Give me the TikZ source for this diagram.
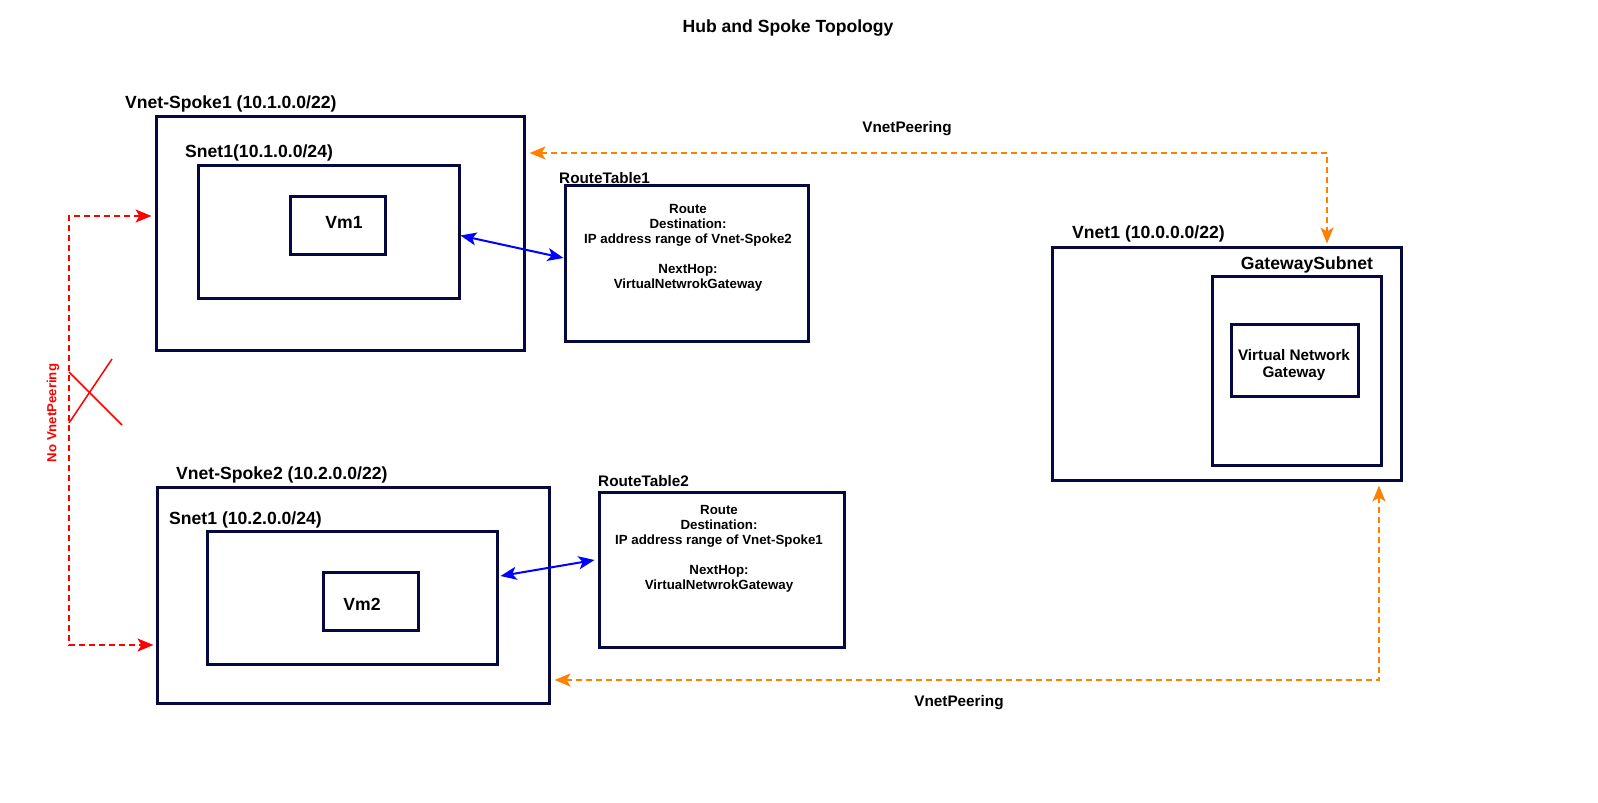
\documentclass[tikz,border=0pt]{standalone}
\usepackage{fontspec}
\setmainfont{Liberation Sans}
\usetikzlibrary{arrows.meta,calc}
\definecolor{navy}{RGB}{8,8,64}
\definecolor{peerorange}{RGB}{255,128,0}
\begin{document}
\begin{tikzpicture}[x=1pt,y=-1pt,
  box/.style={draw=navy, line width=3pt, inner sep=0pt},
  biglbl/.style={font=\bfseries\fontsize{17.6}{20}\selectfont, inner sep=0pt},
  midlbl/.style={font=\bfseries\fontsize{15.3}{17.3}\selectfont, inner sep=0pt, align=center},
  rtext/.style={font=\bfseries\fontsize{13.3}{15}\selectfont, inner sep=0pt, align=center},
  peer/.style={draw=peerorange, line width=2pt, dash pattern=on 6pt off 4pt, {Stealth[length=16pt,width=13pt,inset=4pt]}-{Stealth[length=16pt,width=13pt,inset=4pt]}},
  nopeer/.style={draw=red, line width=2pt, dash pattern=on 6pt off 4pt, {Stealth[length=16pt,width=13pt,inset=4pt]}-{Stealth[length=16pt,width=13pt,inset=4pt]}},
  link/.style={draw=blue, line width=2pt, {Stealth[length=16pt,width=13pt,inset=4pt]}-{Stealth[length=16pt,width=13pt,inset=4pt]}}
]
\useasboundingbox (0,0) rectangle (1598,803);

% title
\node[biglbl] (title) at (788,28) {Hub and Spoke Topology};

% Spoke 1
\node[box, minimum width=368pt, minimum height=234pt] (spoke1) at (340,233) {};
\node[biglbl, anchor=west] (spoke1l) at (125,104) {Vnet-Spoke1 (10.1.0.0/22)};
\node[box, minimum width=261pt, minimum height=133pt] (snet1a) at (328.5,231.5) {};
\node[biglbl, anchor=west] (snet1al) at (185,153) {Snet1(10.1.0.0/24)};
\node[box, minimum width=95pt, minimum height=58pt] (vm1) at (337.5,225) {};
\node[biglbl] (vm1t) at (344,222.5) {Vm1};

% Route table 1
\node[box, minimum width=243pt, minimum height=156pt] (rt1) at (686.5,263) {};
\node[midlbl, anchor=west] (rt1l) at (559,178.5) {RouteTable1};
\node[rtext] (rt1t) at (688,247.5) {Route\\Destination:\\IP address range of Vnet-Spoke2\\[15pt]NextHop:\\VirtualNetwrokGateway};

% Hub
\node[box, minimum width=349pt, minimum height=233pt] (vnet1) at (1226.5,363.5) {};
\node[biglbl, anchor=west] (vnet1l) at (1072,234) {Vnet1 (10.0.0.0/22)};
\node[box, minimum width=169pt, minimum height=189pt] (gws) at (1296.5,370.5) {};
\node[biglbl] (gwsl) at (1307,265) {GatewaySubnet};
\node[box, minimum width=127pt, minimum height=72pt] (vng) at (1294.5,360) {};
\node[midlbl] (vngt) at (1294,365) {Virtual Network\\Gateway};

% Spoke 2
\node[box, minimum width=392pt, minimum height=216pt] (spoke2) at (353,595) {};
\node[biglbl, anchor=west] (spoke2l) at (176,475) {Vnet-Spoke2 (10.2.0.0/22)};
\node[box, minimum width=290pt, minimum height=133pt] (snet1b) at (352,597.5) {};
\node[biglbl, anchor=west] (snet1bl) at (169,520) {Snet1 (10.2.0.0/24)};
\node[box, minimum width=95pt, minimum height=58pt] (vm2) at (370.5,601) {};
\node[biglbl] (vm2t) at (362,604) {Vm2};

% Route table 2
\node[box, minimum width=245pt, minimum height=155pt] (rt2) at (721.5,569.5) {};
\node[midlbl, anchor=west] (rt2l) at (598,481) {RouteTable2};
\node[rtext] (rt2t) at (719,549) {Route\\Destination:\\IP address range of Vnet-Spoke1\\[15pt]NextHop:\\VirtualNetwrokGateway};

% blue links
\draw[link] ([yshift=-4pt]snet1a.east) -- ([yshift=5pt]rt1.west);
\draw[link] ([xshift=2pt,yshift=21.5pt]snet1b.east) -- ([xshift=-3pt,yshift=9.5pt]rt2.west);

% orange peerings
\coordinate (pt) at (1327,153);
\draw[peer] ([xshift=4pt]spoke1.east |- pt) -- (pt) -- ([yshift=2pt]pt |- vnet1.north);
\node[midlbl] (peertop) at (907,129) {VnetPeering};

\coordinate (pb) at (1379,680);
\draw[peer] ([xshift=4pt]spoke2.east |- pb) -- (pb) -- ([yshift=-4pt]pb |- vnet1.south);
\node[midlbl] (peerbot) at (959,703) {VnetPeering};

% red no peering
\coordinate (r1) at (69,216);
\coordinate (r2) at (69,645);
\draw[nopeer] ([xshift=-3pt]spoke1.west |- r1) -- (r1) -- (r2) -- ([xshift=-2pt]spoke2.west |- r2);
\node[font=\bfseries\fontsize{13.2}{15}\selectfont, text=red, inner sep=0pt, rotate=90] (nopl) at (53,413) {No VnetPeering};
\coordinate (x1a) at (69,372);
\coordinate (x1b) at (122,425);
\coordinate (x2a) at (69,423);
\coordinate (x2b) at (112,359);
\draw[red, line width=1.5pt] (x1a) -- (x1b);
\draw[red, line width=1.5pt] (x2a) -- (x2b);
\end{tikzpicture}
\end{document}
